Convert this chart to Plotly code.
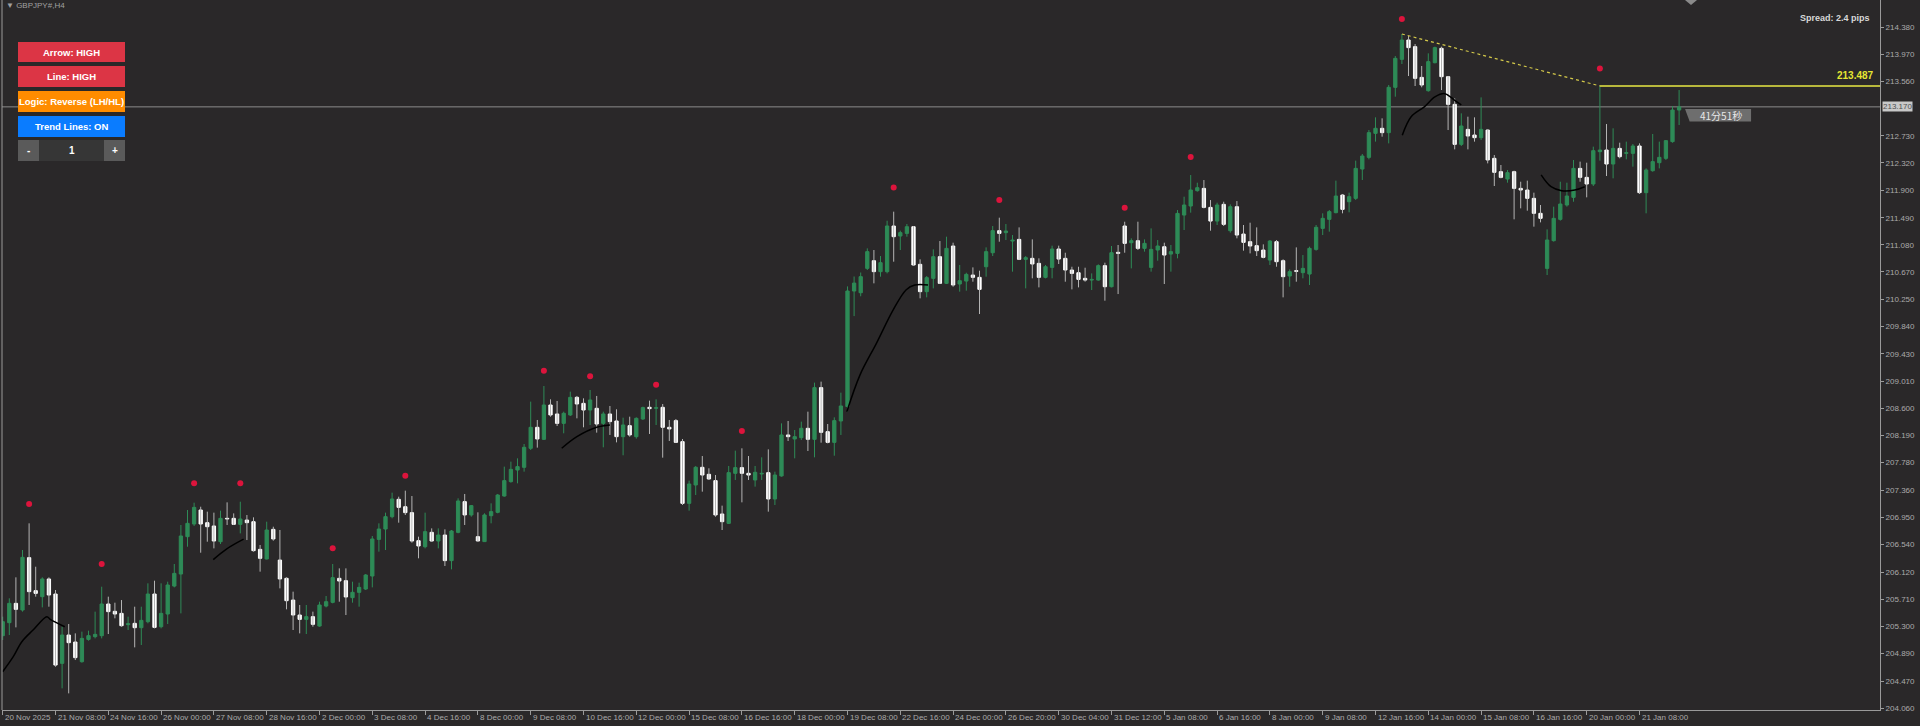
import plotly.graph_objects as go

# ---------------- data ----------------
date_labels = ["20 Nov 2025", "21 Nov 08:00", "24 Nov 16:00", "26 Nov 00:00", "27 Nov 08:00",
               "28 Nov 16:00", "2 Dec 00:00", "3 Dec 08:00", "4 Dec 16:00", "8 Dec 00:00",
               "9 Dec 08:00", "10 Dec 16:00", "12 Dec 00:00", "15 Dec 08:00", "16 Dec 16:00",
               "18 Dec 00:00", "19 Dec 08:00", "22 Dec 16:00", "24 Dec 00:00", "26 Dec 20:00",
               "30 Dec 04:00", "31 Dec 12:00", "5 Jan 08:00", "6 Jan 16:00", "8 Jan 00:00",
               "9 Jan 08:00", "12 Jan 16:00", "14 Jan 00:00", "15 Jan 08:00", "16 Jan 16:00",
               "20 Jan 00:00", "21 Jan 08:00"]
date_label_bars = [0, 8, 16, 24, 32, 40, 48, 56, 64, 72, 80, 88, 96, 104, 112, 120, 128, 136,
                   144, 152, 160, 168, 176, 184, 192, 200, 208, 216, 224, 232, 240, 248]

price_ticks = [214.380, 213.970, 213.560, 212.730, 212.320, 211.900, 211.490, 211.080, 210.670,
               210.250, 209.840, 209.430, 209.010, 208.600, 208.190, 207.780, 207.360, 206.950,
               206.540, 206.120, 205.710, 205.300, 204.890, 204.470, 204.060]

ohlc = [
    (205.158, 205.446, 205.092, 205.370), (205.355, 205.724, 205.168, 205.648),
    (205.648, 206.042, 205.284, 205.557), (205.547, 206.456, 205.522, 206.345),
    (206.340, 206.860, 205.623, 205.825), (205.840, 206.203, 205.749, 205.799),
    (205.749, 206.042, 205.587, 206.017), (206.017, 206.042, 205.597, 205.774),
    (205.789, 205.850, 204.688, 204.713), (204.739, 205.294, 204.360, 205.168),
    (205.168, 205.335, 204.284, 205.052), (205.062, 205.193, 204.789, 204.825),
    (204.764, 205.219, 204.749, 205.117), (205.102, 205.234, 205.082, 205.158),
    (205.143, 205.522, 205.117, 205.178), (205.158, 205.900, 205.117, 205.638),
    (205.638, 205.749, 205.183, 205.522), (205.527, 205.658, 205.421, 205.486),
    (205.496, 205.698, 205.294, 205.309), (205.325, 205.446, 205.244, 205.340),
    (205.345, 205.597, 204.981, 205.279), (205.279, 205.597, 205.017, 205.390),
    (205.370, 205.951, 205.345, 205.789), (205.789, 205.991, 205.269, 205.284),
    (205.294, 205.951, 205.269, 205.496), (205.486, 205.976, 205.335, 205.926),
    (205.910, 206.244, 205.890, 206.102), (206.092, 206.835, 205.496, 206.668),
    (206.658, 207.062, 206.506, 206.860), (206.850, 207.173, 206.820, 207.102),
    (207.062, 207.112, 206.415, 206.850), (206.870, 207.037, 206.582, 206.809),
    (206.820, 207.022, 206.481, 206.592), (206.582, 207.052, 206.547, 206.936),
    (206.936, 207.178, 206.835, 206.926), (206.936, 207.011, 206.835, 206.845),
    (206.845, 207.188, 206.708, 206.926), (206.910, 206.986, 206.607, 206.870),
    (206.885, 206.951, 206.431, 206.446), (206.466, 206.532, 206.128, 206.330),
    (206.320, 206.885, 206.314, 206.759), (206.769, 206.809, 206.597, 206.623),
    (206.304, 206.759, 205.875, 206.017), (206.027, 206.042, 205.557, 205.688),
    (205.698, 205.825, 205.244, 205.471), (205.471, 205.623, 205.193, 205.405),
    (205.405, 205.623, 205.183, 205.446), (205.446, 205.522, 205.294, 205.330),
    (205.304, 205.673, 205.294, 205.623), (205.607, 205.759, 205.587, 205.673),
    (205.663, 206.244, 205.648, 206.037), (206.027, 206.178, 205.673, 205.986),
    (205.991, 206.178, 205.471, 205.744), (205.734, 205.976, 205.658, 205.815),
    (205.815, 205.961, 205.597, 205.890), (205.865, 206.092, 205.850, 206.077),
    (206.062, 206.668, 205.890, 206.623), (206.617, 206.860, 206.431, 206.774),
    (206.774, 207.022, 206.456, 206.961), (206.961, 207.325, 206.936, 207.229),
    (207.224, 207.264, 206.870, 207.102), (207.112, 207.355, 206.986, 207.022),
    (207.022, 207.274, 206.567, 206.592), (206.597, 206.658, 206.330, 206.517),
    (206.506, 207.022, 206.481, 206.734), (206.724, 206.784, 206.582, 206.592),
    (206.592, 206.784, 206.481, 206.683), (206.683, 206.769, 206.214, 206.295),
    (206.295, 206.759, 206.163, 206.744), (206.724, 207.239, 206.709, 207.199),
    (207.189, 207.305, 206.835, 206.987), (206.987, 207.138, 206.961, 207.128),
    (206.658, 207.027, 206.583, 206.593), (206.583, 207.012, 206.583, 206.987),
    (206.976, 207.163, 206.860, 207.037), (207.027, 207.305, 207.012, 207.289),
    (207.274, 207.719, 207.264, 207.507), (207.492, 207.795, 207.476, 207.678),
    (207.668, 207.845, 207.466, 207.719), (207.709, 208.062, 207.643, 208.012),
    (207.997, 208.704, 207.971, 208.315), (208.315, 208.426, 208.007, 208.138),
    (208.133, 208.941, 208.123, 208.653), (208.653, 208.739, 208.476, 208.502),
    (208.517, 208.714, 208.335, 208.375), (208.375, 208.552, 208.224, 208.527),
    (208.502, 208.855, 208.486, 208.769), (208.769, 208.790, 208.451, 208.668),
    (208.678, 208.754, 208.315, 208.577), (208.577, 208.880, 208.350, 208.729),
    (208.603, 208.790, 208.234, 208.365), (208.375, 208.552, 208.012, 208.517),
    (208.517, 208.638, 208.199, 208.401), (208.411, 208.588, 208.087, 208.173),
    (208.173, 208.461, 207.891, 208.350), (208.340, 208.476, 208.173, 208.199),
    (208.173, 208.466, 208.143, 208.451), (208.441, 208.628, 208.426, 208.613),
    (208.618, 208.719, 208.214, 208.598), (208.603, 208.739, 208.350, 208.613),
    (208.618, 208.668, 207.855, 208.315), (208.315, 208.426, 208.108, 208.290),
    (208.416, 208.441, 208.082, 208.087), (208.098, 208.138, 207.138, 207.163),
    (207.163, 207.507, 207.052, 207.456), (207.441, 207.729, 207.289, 207.709),
    (207.709, 207.880, 207.340, 207.592), (207.603, 207.694, 207.517, 207.532),
    (207.507, 207.592, 206.961, 206.987), (207.002, 207.128, 206.759, 206.885),
    (206.860, 207.729, 206.850, 207.628), (207.618, 207.961, 207.517, 207.704),
    (207.704, 207.997, 207.178, 207.618), (207.618, 207.880, 207.517, 207.592),
    (207.517, 207.729, 207.416, 207.633), (207.608, 207.860, 207.517, 207.618),
    (207.628, 207.981, 207.037, 207.229), (207.229, 207.643, 207.138, 207.592),
    (207.578, 208.375, 207.567, 208.199), (208.199, 208.411, 208.108, 208.173),
    (208.138, 208.274, 207.845, 208.173), (208.158, 208.401, 208.123, 208.300),
    (208.300, 208.552, 207.956, 208.133), (208.133, 208.992, 207.860, 208.916),
    (208.916, 209.007, 208.082, 208.239), (208.249, 208.365, 208.072, 208.087),
    (208.087, 208.466, 207.885, 208.416), (208.411, 208.840, 208.199, 208.638),
    (208.630, 210.450, 208.550, 210.380), (210.380, 210.600, 210.000, 210.500),
    (210.354, 210.660, 210.300, 210.597), (210.723, 211.026, 210.698, 210.976),
    (210.839, 211.001, 210.496, 210.673), (210.673, 210.910, 210.597, 210.809),
    (210.673, 211.445, 210.647, 211.365), (211.365, 211.582, 210.824, 211.203),
    (211.213, 211.294, 211.001, 211.264), (211.253, 211.395, 211.203, 211.354),
    (211.354, 211.365, 210.764, 210.774), (210.784, 210.860, 210.269, 210.370),
    (210.370, 210.607, 210.284, 210.582), (210.572, 211.011, 210.420, 210.900),
    (210.900, 211.137, 210.486, 210.496), (210.496, 211.203, 210.486, 211.026),
    (211.062, 211.112, 210.445, 210.471), (210.486, 210.774, 210.370, 210.536),
    (210.531, 210.657, 210.385, 210.632), (210.622, 210.738, 210.521, 210.587),
    (210.587, 210.688, 210.031, 210.405), (210.748, 211.041, 210.597, 210.976),
    (210.960, 211.365, 210.910, 211.294), (211.294, 211.491, 211.127, 211.253),
    (211.264, 211.395, 211.152, 211.289), (211.137, 211.228, 210.673, 211.152),
    (211.162, 211.344, 210.849, 210.860), (210.860, 210.910, 210.420, 210.885),
    (210.875, 211.162, 210.572, 210.789), (210.799, 210.875, 210.435, 210.587),
    (210.587, 210.774, 210.572, 210.748), (210.738, 211.067, 210.572, 211.016),
    (211.016, 211.067, 210.789, 210.864), (210.875, 210.960, 210.521, 210.698),
    (210.698, 210.748, 210.405, 210.647), (210.657, 210.748, 210.435, 210.556),
    (210.572, 210.733, 210.521, 210.546), (210.546, 210.647, 210.395, 210.556),
    (210.546, 210.784, 210.536, 210.764), (210.764, 210.809, 210.233, 210.445),
    (210.445, 211.062, 210.435, 210.960), (210.966, 211.077, 210.334, 210.950),
    (211.365, 211.430, 210.960, 211.102), (211.112, 211.178, 210.723, 211.142),
    (211.142, 211.430, 211.001, 211.026), (211.026, 211.162, 210.976, 211.102),
    (210.738, 211.329, 210.673, 211.011), (211.001, 211.152, 210.839, 211.062),
    (211.051, 211.112, 210.486, 210.925), (210.940, 211.077, 210.673, 210.976),
    (210.950, 211.607, 210.875, 211.556), (211.531, 211.809, 211.304, 211.683),
    (211.668, 212.137, 211.567, 211.910), (211.900, 212.021, 211.885, 211.945),
    (211.935, 212.061, 211.632, 211.647), (211.647, 211.758, 211.294, 211.440),
    (211.440, 211.718, 211.380, 211.683), (211.693, 211.733, 211.365, 211.390),
    (211.294, 211.693, 211.264, 211.657), (211.657, 211.743, 211.178, 211.228),
    (211.243, 211.380, 210.991, 211.117), (211.127, 211.415, 210.950, 211.062),
    (211.067, 211.344, 210.910, 210.991), (211.001, 211.087, 210.875, 210.890),
    (210.849, 211.152, 210.774, 211.137), (211.127, 211.152, 210.748, 210.824),
    (210.839, 210.860, 210.284, 210.597), (210.607, 210.708, 210.445, 210.673),
    (210.688, 211.041, 210.521, 210.678), (210.658, 210.925, 210.572, 210.723),
    (210.637, 211.052, 210.471, 211.026), (211.011, 211.380, 210.991, 211.345),
    (211.329, 211.557, 211.228, 211.481), (211.466, 211.607, 211.279, 211.582),
    (211.567, 212.052, 211.557, 211.819), (211.834, 211.850, 211.557, 211.617),
    (211.733, 211.870, 211.572, 211.809), (211.784, 212.355, 211.759, 212.238),
    (212.228, 212.456, 212.062, 212.425), (212.405, 212.819, 212.375, 212.779),
    (212.769, 213.011, 212.643, 212.845), (212.845, 212.996, 212.718, 212.779),
    (212.779, 213.501, 212.617, 213.466), (213.466, 213.940, 213.324, 213.905),
    (213.890, 214.274, 213.819, 214.183), (214.183, 214.244, 213.637, 214.067),
    (214.082, 214.122, 213.486, 213.602), (213.617, 213.789, 213.466, 213.501),
    (213.415, 213.981, 213.400, 213.855), (213.839, 214.082, 213.829, 214.067),
    (214.057, 214.082, 213.425, 213.627), (213.627, 213.637, 212.819, 213.208),
    (213.208, 213.299, 212.526, 212.602), (212.602, 213.072, 212.577, 212.880),
    (212.829, 213.021, 212.526, 212.728), (212.743, 213.011, 212.643, 212.703),
    (212.703, 213.314, 212.668, 212.829), (212.819, 212.829, 212.314, 212.365),
    (212.390, 212.440, 211.971, 212.178), (212.188, 212.289, 212.087, 212.102),
    (212.077, 212.213, 212.021, 212.173), (212.188, 212.203, 211.466, 211.935),
    (211.935, 212.036, 211.632, 211.910), (211.910, 212.052, 211.597, 211.784),
    (211.784, 211.870, 211.355, 211.557), (211.557, 211.683, 211.420, 211.481),
    (210.723, 211.314, 210.622, 211.153), (211.143, 211.658, 211.128, 211.481),
    (211.466, 212.036, 211.446, 211.698), (211.683, 212.021, 211.658, 211.819),
    (211.799, 212.365, 211.733, 212.238), (212.238, 212.340, 212.036, 212.102),
    (212.102, 212.324, 211.799, 212.001), (212.001, 212.567, 211.971, 212.506),
    (212.491, 213.487, 212.355, 212.516), (212.516, 212.910, 212.122, 212.304),
    (212.304, 212.845, 212.087, 212.541), (212.541, 212.627, 212.390, 212.415),
    (212.466, 212.643, 212.375, 212.476), (212.466, 212.607, 212.264, 212.577),
    (212.577, 212.617, 211.850, 211.870), (211.870, 212.238, 211.557, 212.213),
    (212.203, 212.759, 212.188, 212.340), (212.324, 212.643, 212.238, 212.405),
    (212.390, 212.668, 212.365, 212.658), (212.643, 213.183, 212.627, 213.122),
    (213.122, 213.425, 212.895, 213.170),
]
opens = [r[0] for r in ohlc]
highs = [r[1] for r in ohlc]
lows = [r[2] for r in ohlc]
closes = [r[3] for r in ohlc]

arrow_bars = [4, 15, 29, 36, 50, 61, 82, 89, 99, 112, 135, 151, 170, 180, 212, 242]
arrow_prices = [207.153, 206.244, 207.466, 207.466, 206.481, 207.582, 209.17, 209.09, 208.96,
                208.26, 211.95, 211.76, 211.64, 212.41, 214.50, 213.75]

ma_seg_bars = [
    [0, 1.6, 2.9, 4.6, 6.7, 7.2, 9.4],
    [31.9, 33.9, 36.5],
    [84.7, 87.0, 90.0, 92.0],
    [127.9, 129.9, 132.4, 134.9, 136.9, 138.2, 140.2],
    [212.06, 213.4, 215.4, 217.0, 218.5, 220.0, 221.0],
    [233.1, 234.6, 236.2, 238.2, 239.7],
]
ma_seg_prices = [
    [204.612, 204.840, 205.067, 205.244, 205.446, 205.405, 205.294],
    [206.31, 206.47, 206.62],
    [207.997, 208.173, 208.315, 208.350],
    [208.55, 209.11, 209.59, 210.09, 210.40, 210.47, 210.47],
    [212.74, 213.02, 213.17, 213.32, 213.37, 213.27, 213.20],
    [212.14, 211.96, 211.90, 211.91, 211.96],
]

trend_bars = [212, 242]
current_price = 213.170
spread_text = "Spread: 2.4 pips"
countdown_text = "41分51秒"
symbol_text = "▼ GBPJPY#,H4"
buttons = [("Arrow: HIGH", "#dc3545"), ("Line: HIGH", "#dc3545"),
           ("Logic: Reverse (LH/HL)", "#ff8c00"), ("Trend Lines: ON", "#0a7cff")]

# ---------------- style ----------------
W, H = 1920, 726
ML, MR, MT, MB = 2, 40, 0, 16
PW, PH = W - ML - MR, H - MT - MB
BG = "#2a2829"
GREEN = "#2e8b57"
WHITE = "#ffffff"
WICK_DN = "#b4b4b4"
AXIS = "#9a9a9a"
TXT = "#aaaaaa"
FONT = "Liberation Sans, Arial, sans-serif"


def pxx(px):
    return (px - ML) / PW


def pxy(py):
    return 1 - (py - MT) / PH


n = len(opens)
up = [i for i in range(n) if closes[i] >= opens[i]]
dn = [i for i in range(n) if closes[i] < opens[i]]


def wicks(ids):
    xs, ys = [], []
    for i in ids:
        xs += [i, i, None]
        ys += [lows[i], highs[i], None]
    return xs, ys


fig = go.Figure()
for ids, col in ((up, GREEN), (dn, WICK_DN)):
    xs, ys = wicks(ids)
    fig.add_trace(go.Scatter(x=xs, y=ys, mode="lines", line=dict(color=col, width=1),
                             hoverinfo="skip", showlegend=False))
for ids, col in ((up, GREEN), (dn, WHITE)):
    fig.add_trace(go.Bar(
        x=ids,
        base=[min(opens[i], closes[i]) for i in ids],
        y=[max(abs(closes[i] - opens[i]), 0.006) for i in ids],
        width=0.5, marker=dict(color=col, line=dict(color=col, width=1)),
        hoverinfo="skip", showlegend=False))

# black indicator segments
mx, my = [], []
for bx, by in zip(ma_seg_bars, ma_seg_prices):
    mx += bx + [None]
    my += by + [None]
fig.add_trace(go.Scatter(x=mx, y=my, mode="lines", line=dict(color="#000000", width=1.5, shape="spline"),
                         hoverinfo="skip", showlegend=False))

# arrow dots
fig.add_trace(go.Scatter(x=arrow_bars, y=arrow_prices, mode="markers",
                         marker=dict(color="#dc143c", size=6), hoverinfo="skip", showlegend=False))

# trend line (dashed) and horizontal level
t0, t1 = trend_bars
fig.add_trace(go.Scatter(x=[t0, t1], y=[highs[t0], highs[t1]], mode="lines",
                         line=dict(color="#d4c94a", width=1.2, dash="dot"),
                         hoverinfo="skip", showlegend=False))

X0, X1 = -0.106, 284.44
Y0, Y1 = 204.032, 214.789

shapes = [
    dict(type="line", xref="paper", yref="y", x0=0, x1=1, y0=current_price, y1=current_price,
         line=dict(color="#8c8c8c", width=1), layer="below"),
    dict(type="line", xref="x", yref="y", x0=t1, x1=X1, y0=highs[t1], y1=highs[t1],
         line=dict(color="#b8b83c", width=2)),
    dict(type="line", xref="paper", yref="paper", x0=0, x1=0, y0=0, y1=1,
         line=dict(color=AXIS, width=1)),
    # countdown tag
    dict(type="path", xref="x", yref="y",
         path="M 254.9,213.139 L 264.9,213.139 L 264.9,212.950 L 255.6,212.950 Z",
         fillcolor="#6e6e6e", line=dict(width=0)),
    # top marker
    dict(type="path", xref="paper", yref="paper",
         path=f"M {pxx(1685)},{pxy(0)} L {pxx(1697)},{pxy(0)} L {pxx(1691)},{pxy(5)} Z",
         fillcolor="#8a8a8a", line=dict(width=0)),
]

annotations = []
# buttons
btn_y = [(42, 62), (66, 87), (91, 112), (116, 137)]
for (label, col), (ya, yb) in zip(buttons, btn_y):
    shapes.append(dict(type="rect", xref="paper", yref="paper", x0=pxx(18), x1=pxx(125),
                       y0=pxy(yb), y1=pxy(ya), fillcolor=col, line=dict(width=0), layer="above"))
    annotations.append(dict(xref="paper", yref="paper", x=pxx(71.5), y=pxy((ya + yb) / 2),
                            xanchor="center", yanchor="middle",
                            text=f"<b>{label}</b>", showarrow=False,
                            font=dict(family=FONT, size=9.5, color="#ffffff")))
for (xa, xb, col, label) in ((18, 39, "#5a5a5a", "-"), (39, 104, "#363636", "1"), (104, 125, "#5a5a5a", "+")):
    shapes.append(dict(type="rect", xref="paper", yref="paper", x0=pxx(xa), x1=pxx(xb),
                       y0=pxy(161), y1=pxy(140), fillcolor=col, line=dict(width=0), layer="above"))
    annotations.append(dict(xref="paper", yref="paper", x=pxx((xa + xb) / 2), y=pxy(150.5),
                            xanchor="center", yanchor="middle",
                            text=f"<b>{label}</b>", showarrow=False,
                            font=dict(family=FONT, size=10, color="#ffffff")))

# date labels
for b, t in zip(date_label_bars, date_labels):
    annotations.append(dict(xref="x", yref="paper", x=b, y=0, xanchor="left", yanchor="top",
                            xshift=0, yshift=-1, text=t, showarrow=False,
                            font=dict(family=FONT, size=8, color=TXT)))

annotations += [
    dict(xref="paper", yref="paper", x=pxx(4), y=pxy(6), xanchor="left", yanchor="middle",
         text=symbol_text, showarrow=False, font=dict(family=FONT, size=8, color="#a0a0a0")),
    dict(xref="paper", yref="paper", x=pxx(1872), y=pxy(18), xanchor="right", yanchor="middle",
         text=f"<b>{spread_text}</b>", showarrow=False, font=dict(family=FONT, size=9, color="#d8d8d8")),
    dict(xref="paper", yref="y", x=1, y=highs[t1], xanchor="right", yanchor="bottom", xshift=-4, yshift=3,
         text=f"<b>{highs[t1]:.3f}</b>", showarrow=False, font=dict(family=FONT, size=10, color="#e6e632")),
    dict(xref="paper", yref="y", x=1, y=current_price, xanchor="left", yanchor="middle", xshift=2,
         text=f"{current_price:.3f}", showarrow=False, bgcolor="#c8c8c8", borderpad=0,
         font=dict(family=FONT, size=8, color="#505050")),
    dict(xref="x", yref="y", x=260.3, y=213.045, xanchor="center", yanchor="middle",
         text=countdown_text, showarrow=False,
         font=dict(family="Noto Sans CJK JP, sans-serif", size=10, color="#e8e8e8")),
]

fig.update_layout(
    width=W, height=H, margin=dict(l=ML, r=MR, t=MT, b=MB),
    paper_bgcolor=BG, plot_bgcolor=BG, barmode="overlay", hovermode=False,
    showlegend=False, shapes=shapes, annotations=annotations,
    xaxis=dict(range=[X0, X1], showgrid=False, zeroline=False, showline=True, linecolor=AXIS,
               linewidth=1, ticks="outside", ticklen=4, tickcolor=AXIS, tickvals=date_label_bars,
               showticklabels=False, fixedrange=True),
    yaxis=dict(range=[Y0, Y1], side="right", showgrid=False, zeroline=False, showline=True,
               linecolor=AXIS, linewidth=1, ticks="outside", ticklen=3, tickcolor=AXIS,
               tickvals=price_ticks, ticktext=[f"{v:.3f}" for v in price_ticks],
               tickfont=dict(family=FONT, size=8, color=TXT), fixedrange=True),
)

fig.write_html("out.html", config={"displayModeBar": False},
               post_script="document.body.style.margin='0';document.body.style.overflow='hidden';")
